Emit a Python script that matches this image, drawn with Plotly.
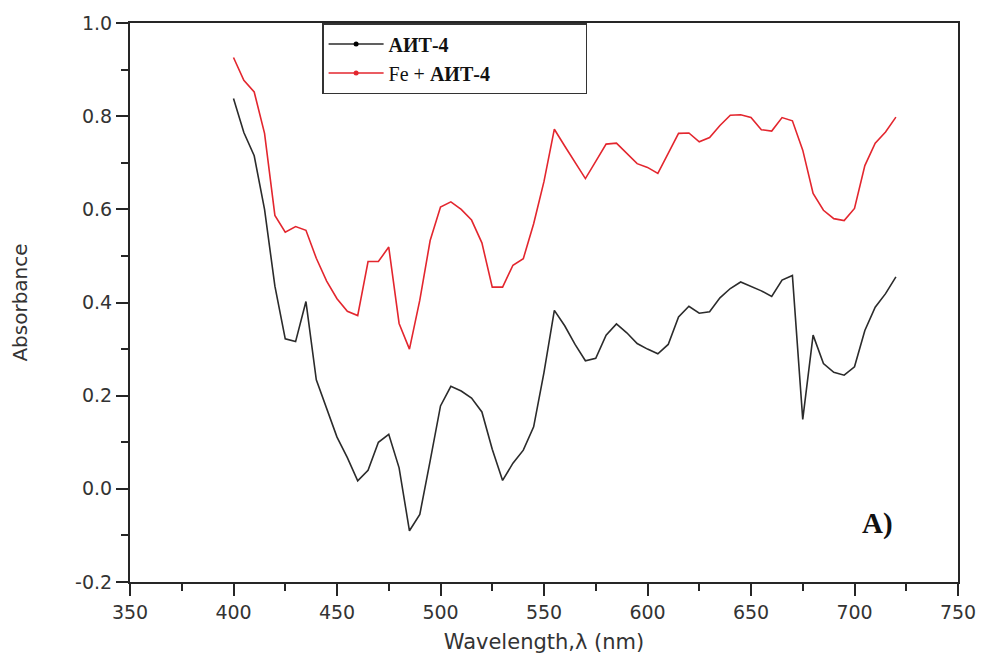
import plotly.graph_objects as go

# Wavelength grid (nm) and absorbance spectra
wavelength = list(range(400, 725, 5))

ait4 = [0.838, 0.765, 0.715, 0.600, 0.435, 0.322, 0.316, 0.402, 0.234, 0.172,
        0.111, 0.067, 0.017, 0.040, 0.100, 0.117, 0.045, -0.090, -0.055, 0.060,
        0.178, 0.220, 0.210, 0.195, 0.165, 0.085, 0.018, 0.055, 0.083, 0.133,
        0.250, 0.383, 0.350, 0.310, 0.275, 0.280, 0.330, 0.354, 0.335, 0.312,
        0.300, 0.290, 0.310, 0.369, 0.392, 0.377, 0.380, 0.410, 0.430, 0.444,
        0.435, 0.425, 0.413, 0.448, 0.458, 0.149, 0.330, 0.269, 0.250, 0.244,
        0.262, 0.340, 0.390, 0.419, 0.455]

fe_ait4 = [0.926, 0.877, 0.852, 0.763, 0.587, 0.551, 0.563, 0.555, 0.495, 0.446,
           0.408, 0.381, 0.372, 0.488, 0.488, 0.519, 0.355, 0.300, 0.405, 0.533,
           0.605, 0.616, 0.600, 0.577, 0.528, 0.433, 0.433, 0.480, 0.494, 0.569,
           0.660, 0.772, 0.736, 0.700, 0.666, 0.703, 0.740, 0.742, 0.720, 0.698,
           0.690, 0.677, 0.720, 0.763, 0.764, 0.745, 0.754, 0.780, 0.802, 0.803,
           0.797, 0.771, 0.768, 0.797, 0.790, 0.727, 0.634, 0.598, 0.580, 0.576,
           0.602, 0.694, 0.742, 0.766, 0.798]

x_ticks = [350, 400, 450, 500, 550, 600, 650, 700, 750]
y_ticks = [-0.2, 0.0, 0.2, 0.4, 0.6, 0.8, 1.0]

BLACK = "#2b2b2b"
RED = "#e3262e"
AXIS = "#262626"
TICKFONT = dict(family="DejaVu Sans", size=19, color="#333333")
PAD = "\u00a0" * 18  # widens the legend box to the right of the labels

fig = go.Figure()

series = [
    ("АИТ-4", "<b>АИТ-4</b>", ait4, BLACK),
    ("Fe + АИТ-4", "Fe + <b>АИТ-4</b>", fe_ait4, RED),
]
for key, label, values, color in series:
    fig.add_trace(go.Scatter(
        x=wavelength, y=values, mode="lines",
        line=dict(color=color, width=1.6),
        legendgroup=key, showlegend=False,
    ))
    # legend entry: line with a small dot, as in the Origin-style key
    fig.add_trace(go.Scatter(
        x=[None], y=[None], mode="lines+markers", name=label + PAD,
        line=dict(color=color, width=1.4),
        marker=dict(color=color if color == RED else "#000000", size=5),
        legendgroup=key, showlegend=True,
    ))

fig.add_annotation(
    x=711, y=-0.074, xref="x", yref="y", text="<b>A)</b>", showarrow=False,
    font=dict(family="Liberation Serif", size=29, color="#111111"),
)

fig.update_layout(
    width=983, height=658,
    margin=dict(l=130, r=25, t=23, b=76),
    paper_bgcolor="white", plot_bgcolor="white",
    showlegend=True,
    legend=dict(
        x=0.232, y=1.0, xanchor="left", yanchor="top",
        bgcolor="white", bordercolor="#333333", borderwidth=1.5,
        font=dict(family="Liberation Serif", size=20, color="#111111"),
        itemwidth=55, tracegroupgap=0,
    ),
    xaxis=dict(
        range=[350, 750], tickvals=x_ticks, ticktext=[str(v) for v in x_ticks],
        showline=True, linecolor=AXIS, linewidth=2, mirror=True,
        ticks="outside", ticklen=12, tickwidth=2, tickcolor=AXIS,
        minor=dict(dtick=25, ticks="outside", ticklen=7, tickwidth=2, tickcolor=AXIS),
        showgrid=False, zeroline=False, tickfont=TICKFONT, automargin=False,
        title=dict(text="Wavelength,λ (nm)", standoff=13,
                   font=dict(family="DejaVu Sans", size=21, color="#333333")),
    ),
    yaxis=dict(
        range=[-0.2, 1.0], tickvals=y_ticks, ticktext=[f"{v:.1f}" for v in y_ticks],
        showline=True, linecolor=AXIS, linewidth=2, mirror=True,
        ticks="outside", ticklen=12, tickwidth=2, tickcolor=AXIS,
        minor=dict(dtick=0.1, ticks="outside", ticklen=7, tickwidth=2, tickcolor=AXIS),
        showgrid=False, zeroline=False, tickfont=TICKFONT, automargin=False,
        title=dict(text="Absorbance", standoff=42,
                   font=dict(family="DejaVu Sans", size=20, color="#333333")),
    ),
)

fig.write_html("out.html")
